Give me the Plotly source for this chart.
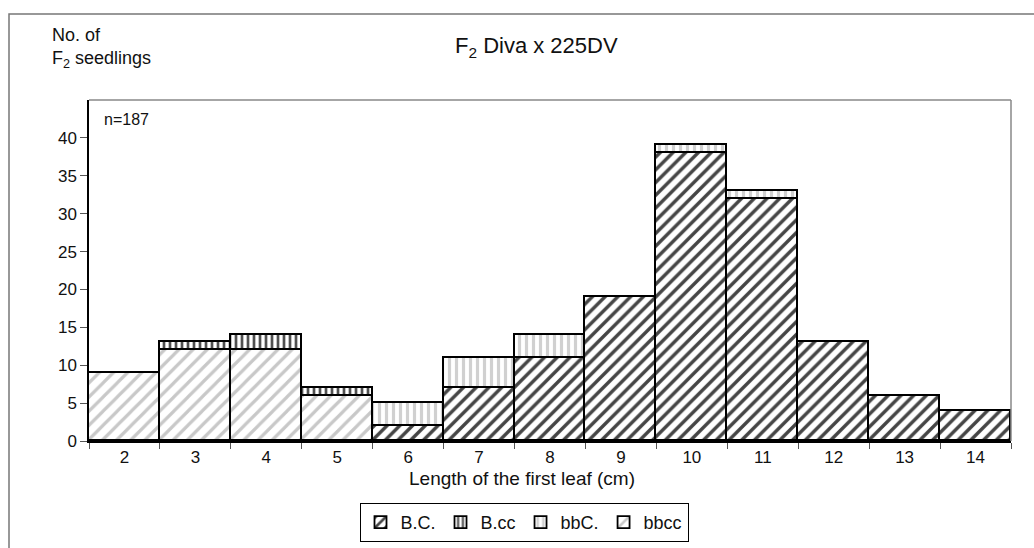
import plotly.graph_objects as go

# Length classes of the first leaf (cm)
lengths = ["2", "3", "4", "5", "6", "7", "8", "9", "10", "11", "12", "13", "14"]

# Number of F2 seedlings per phenotype class
bc_counts   = [0, 0, 0, 0, 2, 7, 11, 19, 38, 32, 13, 6, 4]
bcc_counts  = [0, 1, 2, 1, 0, 0, 0, 0, 0, 0, 0, 0, 0]
bbc_counts  = [0, 0, 0, 0, 3, 4, 3, 0, 1, 1, 0, 0, 0]
bbcc_counts = [9, 12, 12, 6, 0, 0, 0, 0, 0, 0, 0, 0, 0]

FONT = "Liberation Sans, Arial, sans-serif"


def nz(values):
    # empty segments are left out so no zero-height outline is drawn
    return [v if v else None for v in values]


def bar(name, values, shape, fg, size, solidity, rank):
    return go.Bar(
        name=name,
        x=lengths,
        y=nz(values),
        legendrank=rank,
        marker=dict(
            color="white",
            line=dict(color="black", width=1.8),
            pattern=dict(shape=shape, fgcolor=fg, bgcolor="white",
                         size=size, solidity=solidity, fillmode="replace"),
        ),
    )


fig = go.Figure()
# stacking order: B.C. / bbcc at the base, the minor classes on top
fig.add_trace(bar("B.C.", bc_counts, "/", "#454545", 9, 0.38, 1))
fig.add_trace(bar("bbcc", bbcc_counts, "/", "#c8c8c8", 10, 0.32, 4))
fig.add_trace(bar("B.cc", bcc_counts, "|", "#505050", 6, 0.45, 2))
fig.add_trace(bar("bbC.", bbc_counts, "|", "#d0d0d0", 7, 0.45, 3))

L, R, T, B = 89, 23, 100, 107
W, H = 1034, 548
PW, PH = W - L - R, H - T - B


def px(x):
    return (x - L) / PW


def py(y):
    return (H - B - y) / PH


fig.update_layout(
    width=W, height=H,
    margin=dict(l=L, r=R, t=T, b=B, autoexpand=False),
    barmode="stack",
    bargap=0,
    paper_bgcolor="white",
    plot_bgcolor="white",
    font=dict(family=FONT, size=17, color="#111"),
    showlegend=True,
    legend=dict(
        orientation="h",
        x=px(524), xanchor="center",
        y=py(503), yanchor="top",
        bordercolor="black", borderwidth=1,
        bgcolor="white",
        font=dict(size=18),
        traceorder="normal",
    ),
    xaxis=dict(
        type="category",
        showgrid=False,
        showline=True, linecolor="black", linewidth=2,
        ticks="outside", tickson="boundaries", ticklen=6,
        tickcolor="#555", tickwidth=1,
        tickfont=dict(size=17),
        zeroline=False,
    ),
    yaxis=dict(
        range=[0, 45],
        tickvals=[0, 5, 10, 15, 20, 25, 30, 35, 40],
        showgrid=False,
        showline=True, linecolor="black", linewidth=1.5,
        ticks="outside", ticklen=7, tickcolor="#555", tickwidth=1,
        tickfont=dict(size=17),
        zeroline=False,
    ),
    shapes=[
        # outer frame
        dict(type="rect", xref="paper", yref="paper",
             x0=px(9), x1=px(1045), y0=py(560), y1=py(14),
             line=dict(color="#777", width=1.5), layer="below"),
        # plot-area border (top and right)
        dict(type="line", xref="paper", yref="paper",
             x0=0, x1=1, y0=1, y1=1, line=dict(color="#888", width=1.5)),
        dict(type="line", xref="paper", yref="paper",
             x0=1, x1=1, y0=0, y1=1, line=dict(color="#888", width=1.5)),
    ],
    annotations=[
        dict(text="F<sub>2</sub> Diva x 225DV", xref="paper", yref="paper",
             x=px(536), y=py(47), xanchor="center", yanchor="middle",
             showarrow=False, font=dict(size=22)),
        dict(text="No. of<br>F<sub>2</sub> seedlings", xref="paper", yref="paper",
             x=px(50), y=py(23), xanchor="left", yanchor="top", align="left",
             showarrow=False, font=dict(size=18)),
        dict(text="n=187", xref="paper", yref="paper",
             x=px(102), y=py(120), xanchor="left", yanchor="middle",
             showarrow=False, font=dict(size=16)),
        dict(text="Length of the first leaf (cm)", xref="paper", yref="paper",
             x=px(522), y=py(479), xanchor="center", yanchor="middle",
             showarrow=False, font=dict(size=19)),
    ],
)

fig.write_html("out.html")
